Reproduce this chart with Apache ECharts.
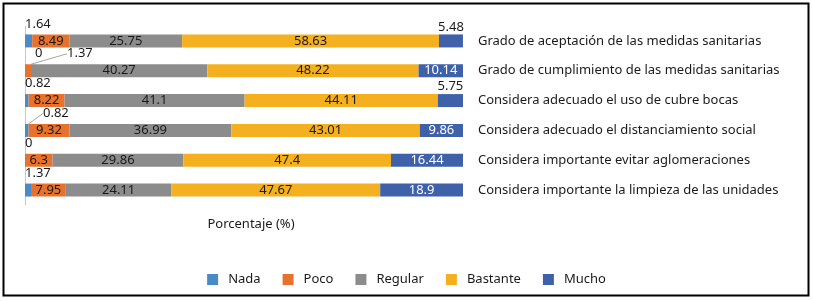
<!DOCTYPE html>
<html>
<head>
<meta charset="utf-8">
<script src="https://cdn.jsdelivr.net/npm/echarts@6/dist/echarts.min.js"></script>
<style>
  html, body { margin: 0; padding: 0; background: #fff; }
  #chart { width: 813px; height: 301px; }
</style>
</head>
<body>
<div id="chart"></div>
<script>
var categories = [
  'Grado de aceptación de las medidas sanitarias',
  'Grado de cumplimiento de las medidas sanitarias',
  'Considera adecuado el uso de cubre bocas',
  'Considera adecuado el distanciamiento social',
  'Considera importante evitar aglomeraciones',
  'Considera importante la limpieza de las unidades'
];
var nada = [1.64, 0, 0.82, 0.82, 0, 1.37];
var poco = [8.49, 1.37, 8.22, 9.32, 6.3, 7.95];
var regular = [25.75, 40.27, 41.1, 36.99, 29.86, 24.11];
var bastante = [58.63, 48.22, 44.11, 43.01, 47.4, 47.67];
var mucho = [5.48, 10.14, 5.75, 9.86, 16.44, 18.9];

var font = 'Noto Sans';
var textColor = '#1a1a1a';

// where the small labels sit, relative to the bar's top-left corner
var nadaOffsets = [[0, -17], [10, -17], [0, -17], [18, -17], [0, -17], [0, -17]];
var nadaLines = [false, false, false, true, false, false];
var pocoSmall = { 1: [42, -17] };

var myChart = echarts.init(document.getElementById('chart'));

function seriesBase(name, values, color, labelColor) {
  return {
    name: name,
    type: 'bar',
    stack: 'total',
    barWidth: 13,
    data: values,
    itemStyle: { color: color },
    label: {
      show: true,
      position: 'inside',
      color: labelColor,
      fontFamily: font,
      fontSize: 13
    }
  };
}

var sNada = seriesBase('Nada', nada.map(function (v, i) {
  return { value: v, labelLine: { show: nadaLines[i] } };
}), '#4a8ac6', textColor);
sNada.labelLine = { show: false, lineStyle: { color: '#a6a6a6', width: 1 } };
sNada.labelLayout = function (p) {
  var off = nadaOffsets[p.dataIndex];
  return { x: p.rect.x + off[0], y: p.rect.y + off[1], align: 'left', verticalAlign: 'top' };
};

var sPoco = seriesBase('Poco', poco.map(function (v, i) {
  return { value: v, labelLine: { show: !!pocoSmall[i] } };
}), '#e7722d', textColor);
sPoco.labelLine = { show: false, lineStyle: { color: '#a6a6a6', width: 1 } };
sPoco.labelLayout = function (p) {
  var off = pocoSmall[p.dataIndex];
  if (!off) return {};
  return { x: p.rect.x + off[0], y: p.rect.y + off[1], align: 'left', verticalAlign: 'top' };
};

var sRegular = seriesBase('Regular', regular, '#8c8c8c', textColor);
var sBastante = seriesBase('Bastante', bastante, '#f5b01f', textColor);

var sMucho = seriesBase('Mucho', mucho.map(function (v) {
  // narrow segments get their value above the bar
  if (v < 8) {
    return { value: v, label: { position: 'top', distance: 1, color: textColor } };
  }
  return v;
}), '#3f61a9', '#ffffff');

myChart.setOption({
  animation: false,
  textStyle: { fontFamily: font },
  legend: {
    bottom: 10,
    left: 'center',
    itemWidth: 11,
    itemHeight: 11,
    itemGap: 22,
    icon: 'rect',
    textStyle: { fontFamily: font, fontSize: 13, color: textColor, padding: [0, 0, 0, 5] },
    data: ['Nada', 'Poco', 'Regular', 'Bastante', 'Mucho']
  },
  grid: { left: 25, right: 350, top: 26, bottom: 96 },
  xAxis: {
    type: 'value',
    min: 0,
    max: 100,
    name: 'Porcentaje (%)',
    nameLocation: 'middle',
    nameGap: 13,
    nameTextStyle: { fontFamily: font, fontSize: 13, color: textColor, padding: [0, 0, 0, 14] },
    axisLine: { show: false },
    axisTick: { show: false },
    axisLabel: { show: false },
    splitLine: { show: false }
  },
  yAxis: [
    {
      type: 'category',
      inverse: true,
      data: categories,
      position: 'left',
      axisLine: { show: true, lineStyle: { color: '#c8c8c8' } },
      axisTick: { show: false },
      axisLabel: { show: false }
    },
    {
      type: 'category',
      inverse: true,
      data: categories,
      position: 'right',
      axisLine: { show: false },
      axisTick: { show: false },
      axisLabel: {
        margin: 15,
        align: 'left',
        fontFamily: font,
        fontSize: 13,
        color: textColor
      }
    }
  ],
  graphic: [{
    type: 'rect',
    shape: { x: 3.5, y: 3.5, width: 805, height: 292 },
    style: { fill: 'none', stroke: '#000', lineWidth: 2 },
    silent: true
  }],
  series: [sNada, sPoco, sRegular, sBastante, sMucho]
});
</script>
</body>
</html>
